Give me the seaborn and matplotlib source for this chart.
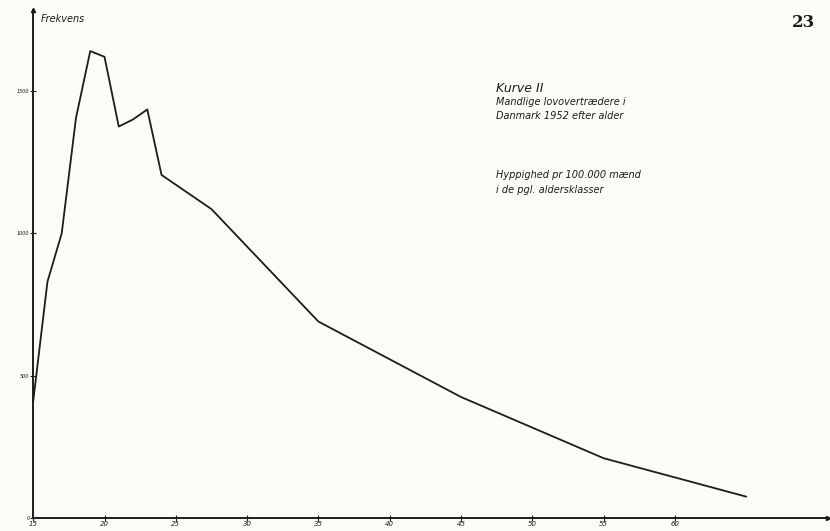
import matplotlib
matplotlib.use("Agg")
import matplotlib.pyplot as plt
import seaborn as sns
import pandas as pd

# age (midpoint of class) and offenders per 100.000 men
ages = [15, 16, 17, 18, 19, 20, 21, 22, 23, 24, 27.5, 35, 45, 55, 65]
freq = [410, 830, 1000, 1405, 1640, 1620, 1375, 1400, 1435, 1205, 1085, 690, 425, 210, 75]

x_ticks = [15, 20, 25, 30, 35, 40, 45, 50, 55, 60]
y_ticks = [0, 500, 1000, 1500]

paper = "#fcfbf6"
ink = "#1c1c1c"

sns.set_style("ticks")
plt.rcParams['font.family'] = ['DejaVu Sans']

df = pd.DataFrame({'alder': ages, 'frekvens': freq})

fig = plt.figure(figsize=(8.3, 5.31), dpi=100, facecolor=paper)
ax = fig.add_axes([0.040, 0.0245, 0.957, 0.957])
ax.set_facecolor(paper)

sns.lineplot(data=df, x='alder', y='frekvens', color=ink, linewidth=1.3, ax=ax)

ax.set_xlim(15, 70.7)
ax.set_ylim(0, 1785)
ax.set_xticks(x_ticks)
ax.set_yticks(y_ticks)
ax.set_xticklabels([str(t) for t in x_ticks], fontsize=5, style='italic')
ax.set_yticklabels([str(t) for t in y_ticks], fontsize=3.5, style='italic')
ax.tick_params(direction='inout', length=4, width=0.8, colors=ink, pad=0.5)
ax.set_xlabel('')
ax.set_ylabel('')

sns.despine(ax=ax)
for side in ['left', 'bottom']:
    ax.spines[side].set_linewidth(1.4)
    ax.spines[side].set_color(ink)

# arrow heads on the axes
ax.plot(1, 0, '>', color=ink, ms=3, transform=ax.transAxes, clip_on=False)
ax.plot(0, 1, '^', color=ink, ms=3, transform=ax.transAxes, clip_on=False)

fig.text(0.049, 0.964, 'Frekvens', fontsize=7, style='italic', color=ink, va='center')

fig.text(0.598, 0.834, 'Kurve II', fontsize=9, style='italic', color=ink, va='center')
fig.text(0.598, 0.808, 'Mandlige lovovertrædere i', fontsize=7, style='italic', color=ink, va='center')
fig.text(0.598, 0.782, 'Danmark 1952 efter alder', fontsize=7, style='italic', color=ink, va='center')
fig.text(0.598, 0.670, 'Hyppighed pr 100.000 mænd', fontsize=7, style='italic', color=ink, va='center')
fig.text(0.598, 0.643, 'i de pgl. aldersklasser', fontsize=7, style='italic', color=ink, va='center')

fig.text(0.968, 0.958, '23', fontsize=12, fontweight='bold', family='DejaVu Serif', color=ink,
         va='center', ha='center')

fig.savefig('out.png', dpi=100, facecolor=paper)
